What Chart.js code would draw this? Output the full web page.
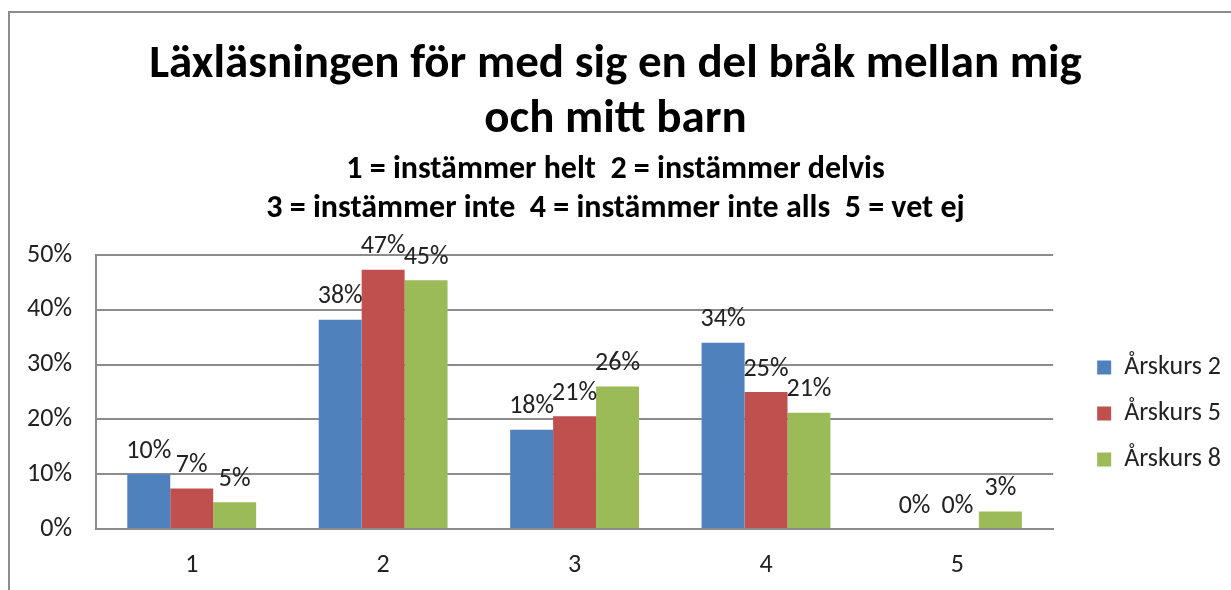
<!DOCTYPE html>
<html>
<head>
<meta charset="utf-8">
<script src="https://cdn.jsdelivr.net/npm/chart.js@4"></script>
<style>
    html, body { margin: 0; padding: 0; background: #fff; overflow: hidden; }
    .frame { position: absolute; left: 8px; top: 11px; width: 1400px; height: 800px; border-left: 2px solid #8c8c8c; border-top: 2px solid #8c8c8c; }
    .chart-box { position: absolute; left: 0; top: 0; width: 1231px; height: 590px; }
</style>
</head>
<body>
<div class="frame"></div>
<div class="chart-box"><canvas id="barChart"></canvas></div>
<script>
const categories = ['1', '2', '3', '4', '5'];
const seriesNames = ['Årskurs 2', 'Årskurs 5', 'Årskurs 8'];
const arskurs2 = [10, 38.2, 18.1, 34, 0];
const arskurs5 = [7.4, 47.3, 20.6, 25, 0];
const arskurs8 = [4.9, 45.4, 26, 21.2, 3.2];
const yTicks = [0, 10, 20, 30, 40, 50];

const titleLines = ['Läxläsningen för med sig en del bråk mellan mig', 'och mitt barn'];
const subtitleLines = ['1 = instämmer helt  2 = instämmer delvis', '3 = instämmer inte  4 = instämmer inte alls  5 = vet ej'];

const colors = ['#4F81BD', '#C0504D', '#9BBB59'];
const fontFamily = 'Carlito, Lato, "Open Sans", sans-serif';

// value labels above each bar, rounded like Excel shows them
const barLabels = {
    id: 'barLabels',
    afterDatasetsDraw(chart) {
        const ctx = chart.ctx;
        ctx.save();
        ctx.font = '26px ' + fontFamily;
        ctx.fillStyle = '#222';
        ctx.textAlign = 'center';
        ctx.textBaseline = 'middle';
        chart.data.datasets.forEach((ds, i) => {
            const meta = chart.getDatasetMeta(i);
            meta.data.forEach((bar, j) => {
                ctx.fillText(Math.round(ds.data[j]) + '%', bar.x, bar.y - 23);
            });
        });
        ctx.restore();
    }
};

const datasets = [arskurs2, arskurs5, arskurs8].map((values, i) => ({
    label: seriesNames[i],
    data: values,
    backgroundColor: colors[i],
    borderWidth: 0,
    categoryPercentage: 0.673,
    barPercentage: 1.0
}));

new Chart(document.getElementById('barChart').getContext('2d'), {
    type: 'bar',
    data: { labels: categories, datasets: datasets },
    plugins: [barLabels],
    options: {
        responsive: true,
        maintainAspectRatio: false,
        animation: false,
        layout: { padding: { left: 0, right: 0, top: 0, bottom: 0 } },
        plugins: {
            title: {
                display: true,
                text: titleLines,
                color: '#000',
                font: { family: fontFamily, size: 47, weight: 'bold', lineHeight: 1.17 },
                padding: { top: 38, bottom: 2 }
            },
            subtitle: {
                display: true,
                text: subtitleLines,
                color: '#000',
                font: { family: fontFamily, size: 32, weight: 'bold', lineHeight: 1.22 },
                padding: { top: 0, bottom: 27 }
            },
            legend: {
                position: 'right',
                title: { display: true, text: ' ', font: { size: 10 }, padding: { top: 225, bottom: 0 } },
                labels: {
                    color: '#222',
                    font: { family: fontFamily, size: 26 },
                    boxWidth: 14,
                    boxHeight: 14,
                    padding: 20
                }
            },
            tooltip: { enabled: false }
        },
        scales: {
            x: {
                afterFit: (scale) => { scale.height = 61; },
                grid: { display: false, drawTicks: false },
                border: { color: '#8c8c8c', width: 2 },
                ticks: { color: '#222', font: { family: fontFamily, size: 26 }, padding: 21 }
            },
            y: {
                min: 0,
                max: 50,
                afterBuildTicks: (scale) => { scale.ticks = yTicks.map(v => ({ value: v })); },
                afterFit: (scale) => { scale.width = 96; },
                grid: { color: '#8c8c8c', lineWidth: 2, drawTicks: false },
                border: { color: '#8c8c8c', width: 2 },
                ticks: {
                    color: '#222',
                    font: { family: fontFamily, size: 26 },
                    padding: 24,
                    callback: (v) => v + '%'
                }
            },
            // empty spacer between plot area and legend
            gap: {
                type: 'linear',
                position: 'right',
                grid: { display: false, drawTicks: false },
                border: { display: false },
                ticks: { display: false },
                afterFit: (scale) => { scale.width = 24; }
            }
        }
    }
});
</script>
</body>
</html>
